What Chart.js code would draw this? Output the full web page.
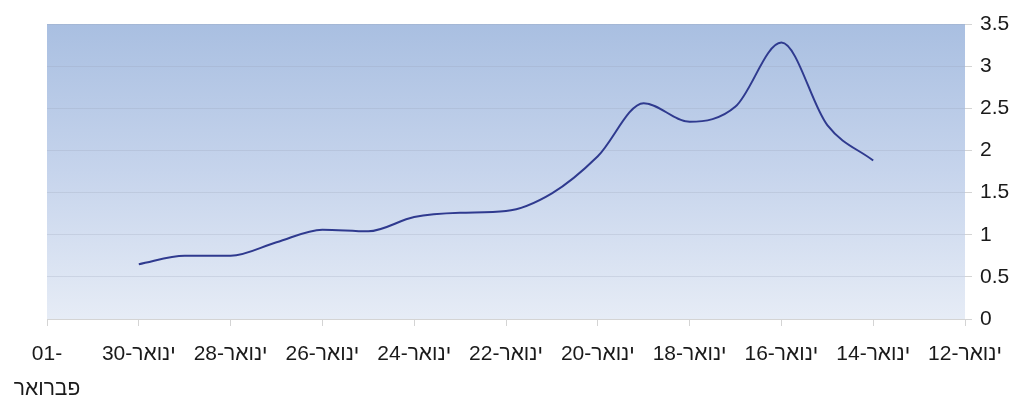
<!DOCTYPE html>
<html><head><meta charset="utf-8">
<script src="https://cdn.jsdelivr.net/npm/chart.js@4/dist/chart.umd.min.js"></script>
<style>html,body{margin:0;padding:0;background:#fff}</style>
</head><body>
<canvas id="c" width="1024" height="405"></canvas>
<script>
// x = days after 12 January (axis runs right-to-left)
const dayOffsets = [2, 3, 4, 5, 6, 7, 8, 9, 10, 11, 12, 13, 14, 15, 16, 17, 18];
// 14 Jan ... 30 Jan
const values = [1.88, 2.30, 3.28, 2.52, 2.34, 2.56, 1.93, 1.49, 1.28, 1.26, 1.21, 1.04, 1.06, 0.91, 0.75, 0.75, 0.65];
const tickValues = [0, 2, 4, 6, 8, 10, 12, 14, 16, 18, 20];
const tickLabels = ['12-ינואר', '14-ינואר', '16-ינואר', '18-ינואר', '20-ינואר', '22-ינואר', '24-ינואר', '26-ינואר', '28-ינואר', '30-ינואר', ['01-', 'פברואר']];
const yMin = 0, yMax = 3.5, yStep = 0.5;

const points = dayOffsets.map((d, i) => ({x: d, y: values[i]}));

const bgPlugin = {
  id: 'bg',
  beforeDraw(chart) {
    const {ctx, chartArea: a} = chart;
    const g = ctx.createLinearGradient(0, a.top, 0, a.bottom);
    g.addColorStop(0, '#a9bfe1');
    g.addColorStop(0.5, '#c6d4ec');
    g.addColorStop(1, '#e6ecf6');
    ctx.save();
    ctx.fillStyle = g;
    ctx.fillRect(a.left, a.top, a.right - a.left, a.bottom - a.top);
    ctx.restore();
  }
};

const font = {family: "'Liberation Sans', Arial, sans-serif", size: 21};

new Chart(document.getElementById('c'), {
  type: 'line',
  data: {
    datasets: [{
      data: points,
      borderColor: '#2f3a8f',
      borderWidth: 2,
      pointRadius: 0,
      cubicInterpolationMode: 'monotone',
      fill: false
    }]
  },
  options: {
    responsive: false,
    devicePixelRatio: 1,
    animation: false,
    layout: {padding: {left: 47, top: 24, right: 0, bottom: 0}},
    plugins: {legend: {display: false}, tooltip: {enabled: false}},
    scales: {
      x: {
        type: 'linear',
        reverse: true,
        min: 0, max: 20,
        afterBuildTicks: s => { s.ticks = tickValues.map(v => ({value: v})); },
        afterFit: s => { s.height = 86; },
        ticks: {
          autoSkip: false,
          maxRotation: 0,
          padding: 11,
          color: '#1a1a1a',
          font: Object.assign({lineHeight: 1.67}, font),
          callback: v => { const i = tickValues.indexOf(v); return i >= 0 ? tickLabels[i] : ''; }
        },
        grid: {drawOnChartArea: false, tickLength: 7, color: '#d4d4d4'},
        border: {color: '#d4d4d4'}
      },
      y: {
        position: 'right',
        min: yMin, max: yMax,
        ticks: {stepSize: yStep, padding: 8, color: '#1a1a1a', font: font, callback: v => String(v)},
        afterFit: s => { s.width = 59; },
        grid: {color: 'rgba(150,160,180,0.25)', tickLength: 7, tickColor: '#d4d4d4'},
        border: {display: false}
      }
    }
  },
  plugins: [bgPlugin]
});
</script>
</body></html>
